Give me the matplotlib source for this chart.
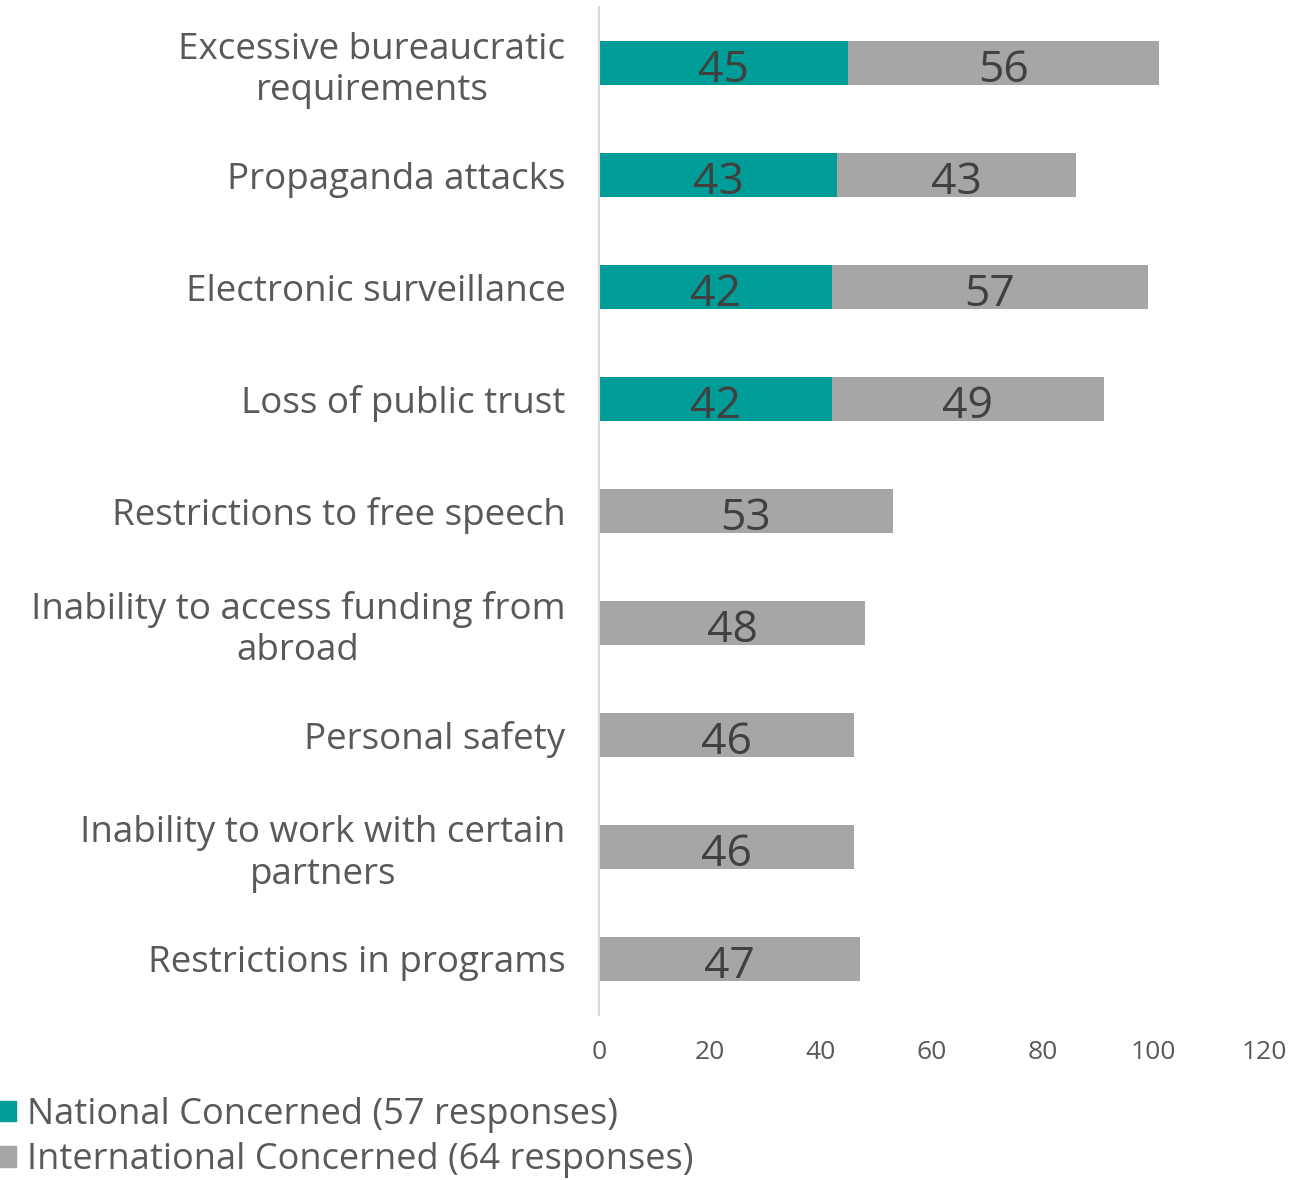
import matplotlib
matplotlib.use("Agg")
import matplotlib.pyplot as plt
from matplotlib.patches import Patch

categories = [
    "Excessive bureaucratic\nrequirements",
    "Propaganda attacks",
    "Electronic surveillance",
    "Loss of public trust",
    "Restrictions to free speech",
    "Inability to access funding from\nabroad",
    "Personal safety",
    "Inability to work with certain\npartners",
    "Restrictions in programs",
]
national = [45, 43, 42, 42, 0, 0, 0, 0, 0]
international = [56, 43, 57, 49, 53, 48, 46, 46, 47]
xticks = [0, 20, 40, 60, 80, 100, 120]

teal = "#009C97"
grey = "#A6A6A6"
text_col = "#595959"
label_col = "#404040"

plt.rcParams["font.family"] = ["Open Sans", "DejaVu Sans"]

fig = plt.figure(figsize=(13.16, 11.8), dpi=100)
ax = fig.add_axes([0.455, 0.14, 0.506, 0.854])

y = list(range(len(categories)))
h = 0.39
ax.barh(y, national, height=h, color=teal)
ax.barh(y, international, height=h, left=national, color=grey)

for i in y:
    if national[i]:
        ax.text(national[i] / 2, i + 0.02, str(national[i]), ha="center",
                va="center_baseline", fontsize=32, color=label_col)
    ax.text(national[i] + international[i] / 2, i + 0.02, str(international[i]),
            ha="center", va="center_baseline", fontsize=32, color=label_col)

ax.set_ylim(8.5, -0.5)
ax.set_xlim(0, 120)
ax.set_xticks(xticks)
ax.set_yticks(y)
ax.set_yticklabels(categories, fontsize=26.5, color=text_col, linespacing=1.2)
for lbl in ax.get_yticklabels():
    lbl.set_multialignment("center")
ax.tick_params(axis="y", length=0, pad=24)
ax.tick_params(axis="x", length=0, labelsize=19, labelcolor=text_col, pad=18)
for s in ["top", "right", "bottom"]:
    ax.spines[s].set_visible(False)
ax.spines["left"].set_color("#D9D9D9")
ax.spines["left"].set_linewidth(1.5)

handles = [Patch(color=teal, label="National Concerned (57 responses)"),
           Patch(color=grey, label="International Concerned (64 responses)")]
fig.legend(handles=handles, loc="lower left", bbox_to_anchor=(-0.026, -0.026),
           frameon=False, fontsize=26, labelcolor=text_col, handlelength=0.5,
           handleheight=0.5, handletextpad=0.3, labelspacing=0.26)

fig.savefig("out.png", dpi=100)
